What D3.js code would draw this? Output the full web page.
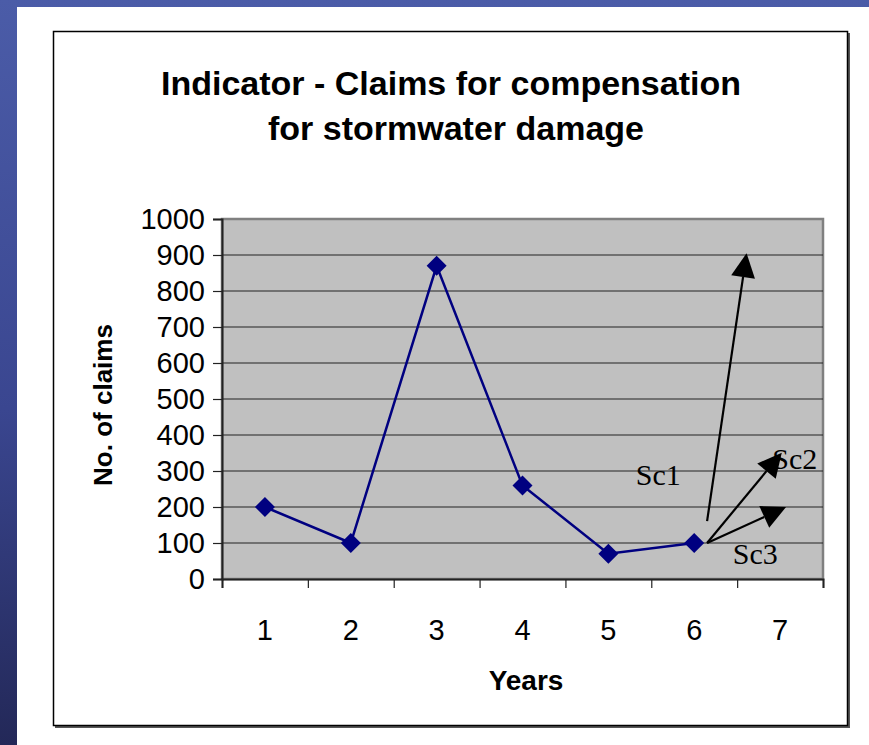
<!DOCTYPE html>
<html>
<head>
<meta charset="utf-8">
<script src="https://cdn.jsdelivr.net/npm/d3@7/dist/d3.min.js"></script>
<style>
  html, body { margin: 0; padding: 0; overflow: hidden; }
</style>
</head>
<body>
<div id="chart"></div>
<script>
// data
var years = [1, 2, 3, 4, 5, 6];
var claims = [200, 100, 870, 260, 70, 100];
var xTickLabels = [1, 2, 3, 4, 5, 6, 7];
var yTicks = [0, 100, 200, 300, 400, 500, 600, 700, 800, 900, 1000];

// scenario arrows, in data units (year position, claims)
var scenarioNames = ["Sc1", "Sc2", "Sc3"];
var arrowFrom = [[6.15, 161], [6.15, 100], [6.15, 100]];
var arrowTo = [[6.61, 905], [7.02, 351], [7.07, 200]];
var labelAt = [[5.32, 261], [6.91, 306], [6.45, 42]];

var W = 869, H = 745;
var svg = d3.select("#chart").append("svg")
    .attr("width", W).attr("height", H);

// blue background
var defs = svg.append("defs");
var grad = defs.append("linearGradient").attr("id", "bg")
    .attr("x1", 0).attr("y1", 0).attr("x2", 0).attr("y2", 1);
grad.append("stop").attr("offset", "0%").attr("stop-color", "#4b5ca8");
grad.append("stop").attr("offset", "55%").attr("stop-color", "#3a4690");
grad.append("stop").attr("offset", "100%").attr("stop-color", "#232858");
svg.append("rect").attr("width", W).attr("height", H).attr("fill", "url(#bg)");

// white slide area
svg.append("rect").attr("x", 17).attr("y", 7).attr("width", W - 17).attr("height", H - 7)
    .attr("fill", "#ffffff");

// chart frame with shadow
svg.append("rect").attr("x", 55).attr("y", 33).attr("width", 795).attr("height", 695)
    .attr("fill", "#555");
svg.append("rect").attr("x", 53.5).attr("y", 31.5).attr("width", 794).attr("height", 694)
    .attr("fill", "#fff").attr("stroke", "#000").attr("stroke-width", 1.5);

var plotL = 222, plotR = 823, plotT = 219, plotB = 579;

var x = d3.scaleLinear().domain([0.5, 7.5]).range([plotL, plotR]);
var y = d3.scaleLinear().domain([0, 1000]).range([plotB, plotT]);

// plot area
svg.append("rect").attr("x", plotL).attr("y", plotT)
    .attr("width", plotR - plotL).attr("height", plotB - plotT)
    .attr("fill", "#c0c0c0").attr("stroke", "#808080").attr("stroke-width", 2.5);

// gridlines
svg.append("g").selectAll("line").data(yTicks.filter(function (d) { return d > 0 && d < 1000; }))
    .enter().append("line")
    .attr("x1", plotL).attr("x2", plotR)
    .attr("y1", function (d) { return y(d); }).attr("y2", function (d) { return y(d); })
    .attr("stroke", "#222").attr("stroke-width", 1);

// y axis
var yAxis = svg.append("g").attr("transform", "translate(" + plotL + ",0)")
    .call(d3.axisLeft(y).tickValues(yTicks).tickSize(9).tickPadding(8).tickFormat(d3.format("d")));
yAxis.select(".domain").attr("stroke", "#222").attr("stroke-width", 2);
yAxis.selectAll(".tick line").attr("stroke", "#222").attr("stroke-width", 1.2);
yAxis.selectAll("text").attr("font-family", "Liberation Sans, Arial, sans-serif")
    .attr("font-size", 29).attr("fill", "#000");

// x axis: ticks between categories, labels at centres
var xAxis = svg.append("g").attr("transform", "translate(0," + plotB + ")")
    .call(d3.axisBottom(x).tickValues(d3.range(0.5, 8, 1)).tickSize(9).tickFormat(""));
xAxis.select(".domain").attr("stroke", "#222").attr("stroke-width", 2);
xAxis.selectAll(".tick line").attr("stroke", "#222").attr("stroke-width", 1.2);

svg.append("g").selectAll("text").data(xTickLabels).enter().append("text")
    .attr("x", function (d) { return x(d); }).attr("y", 640)
    .attr("text-anchor", "middle")
    .attr("font-family", "Liberation Sans, Arial, sans-serif").attr("font-size", 29)
    .text(function (d) { return d; });

// series line and markers
var pts = years.map(function (d, i) { return [d, claims[i]]; });
svg.append("path").datum(pts)
    .attr("fill", "none").attr("stroke", "#000080").attr("stroke-width", 2.5)
    .attr("d", d3.line().x(function (d) { return x(d[0]); }).y(function (d) { return y(d[1]); }));

svg.append("g").selectAll("path").data(pts).enter().append("path")
    .attr("transform", function (d) { return "translate(" + x(d[0]) + "," + y(d[1]) + ")"; })
    .attr("d", "M0,-10L10,0L0,10L-10,0Z")
    .attr("fill", "#000080");

// scenario arrows
var arrows = svg.append("g");
scenarioNames.forEach(function (name, i) {
    var x0 = x(arrowFrom[i][0]), y0 = y(arrowFrom[i][1]);
    var x1 = x(arrowTo[i][0]), y1 = y(arrowTo[i][1]);
    var ang = Math.atan2(y1 - y0, x1 - x0);
    var len = 24, hw = 12;
    var bx = x1 - len * Math.cos(ang), by = y1 - len * Math.sin(ang);
    arrows.append("line")
        .attr("x1", x0).attr("y1", y0).attr("x2", bx).attr("y2", by)
        .attr("stroke", "#000").attr("stroke-width", 2.2);
    var px = -Math.sin(ang) * hw, py = Math.cos(ang) * hw;
    arrows.append("path")
        .attr("d", "M" + x1 + "," + y1 + "L" + (bx + px) + "," + (by + py) + "L" + (bx - px) + "," + (by - py) + "Z")
        .attr("fill", "#000");
    arrows.append("text")
        .attr("x", x(labelAt[i][0])).attr("y", y(labelAt[i][1]))
        .attr("font-family", "Liberation Serif, Times New Roman, serif").attr("font-size", 30)
        .attr("fill", "#000")
        .text(name);
});

// title
var title = svg.append("text").attr("text-anchor", "middle")
    .attr("font-family", "Liberation Sans, Arial, sans-serif").attr("font-weight", "bold")
    .attr("font-size", 34);
title.append("tspan").attr("x", 451).attr("y", 95).text("Indicator - Claims for compensation");
title.append("tspan").attr("x", 456).attr("y", 140).text("for stormwater damage");

// axis titles
svg.append("text").attr("transform", "translate(112,405) rotate(-90)")
    .attr("text-anchor", "middle")
    .attr("font-family", "Liberation Sans, Arial, sans-serif").attr("font-weight", "bold")
    .attr("font-size", 26).text("No. of claims");

svg.append("text").attr("x", 526).attr("y", 690).attr("text-anchor", "middle")
    .attr("font-family", "Liberation Sans, Arial, sans-serif").attr("font-weight", "bold")
    .attr("font-size", 28).text("Years");
</script>
</body>
</html>
